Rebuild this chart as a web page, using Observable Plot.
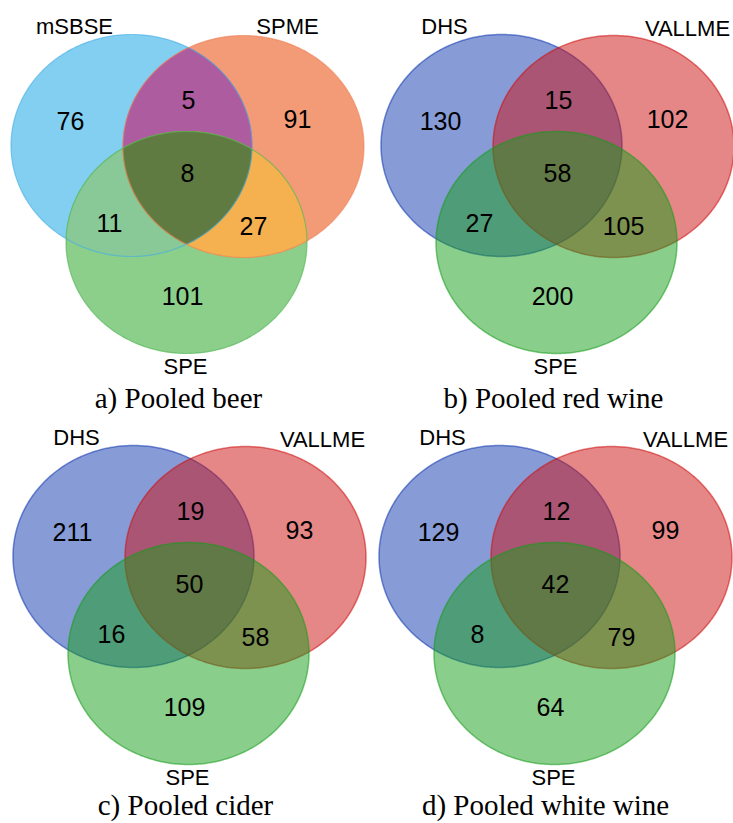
<!DOCTYPE html>
<html>
<head>
<meta charset="utf-8">
<script src="https://cdn.jsdelivr.net/npm/d3@7"></script>
<script src="https://cdn.jsdelivr.net/npm/@observablehq/plot@0.6"></script>
<style>
  html, body { margin: 0; padding: 0; background: #fff; }
  #chart { width: 733px; height: 823px; }
</style>
</head>
<body>
<div id="chart"></div>
<script>
// ---- data ----
const captions = ["a) Pooled beer", "b) Pooled red wine", "c) Pooled cider", "d) Pooled white wine"];
const setNamesA = ["mSBSE", "SPME", "SPE"];
const setNamesB = ["DHS", "VALLME", "SPE"];
const setNamesC = ["DHS", "VALLME", "SPE"];
const setNamesD = ["DHS", "VALLME", "SPE"];
// region order: only1, 1∩2, only2, 1∩2∩3, 1∩3, 2∩3, only3
const regions = ["1", "12", "2", "123", "13", "23", "3"];
const countsA = [76, 5, 91, 8, 11, 27, 101];
const countsB = [130, 15, 102, 58, 27, 105, 200];
const countsC = [211, 19, 93, 50, 16, 58, 109];
const countsD = [129, 12, 99, 42, 8, 79, 64];

const panels = [
  {caption: captions[0], names: setNamesA, counts: countsA},
  {caption: captions[1], names: setNamesB, counts: countsB},
  {caption: captions[2], names: setNamesC, counts: countsC},
  {caption: captions[3], names: setNamesD, counts: countsD}
];

// ---- layout (Venn template, shared by the four panels) ----
const W = 733, H = 823;
const offsets = [[0, 0], [370, 0], [2, 411], [368, 411]];
const centers = [[131, 145], [243, 146], [186, 242]];
const RX = 120.5, RY = 111;
const regionPos = {"1": [70, 121], "12": [188, 100], "2": [297, 119], "123": [187, 173], "13": [109, 223], "23": [253, 226], "3": [182, 296]};
const namePos = [[[74, 26], [287, 26], [185, 366]], [[74, 26], [317, 28], [185, 366]], [[74, 26], [320, 28], [185, 366]], [[74, 26], [317, 28], [185, 366]]];
const captionPos = [[178, 398], [183, 398], [183, 394], [177, 394]];

// styles
const solidSetColors = ["#82CFF2", "#F39B77", "#8BCF8B"];
const solidStroke = ["#45AEE3", "#EC8155", "#4DB451"];
const solidLens = {"12": "#AD5C9F", "13": "#88C997", "23": "#F5B150", "123": "#5F7B42"};
const alphaSetColors = ["#0F37AF", "#CD0F0F", "#159D19"];

// ---- geometry helpers ----
const ellipse = (c, n = 360) => d3.range(n).map(i => {
  const t = 2 * Math.PI * i / n;
  return [c[0] + RX * Math.cos(t), c[1] + RY * Math.sin(t)];
});
const inside = (p, c) => ((p[0] - c[0]) / RX) ** 2 + ((p[1] - c[1]) / RY) ** 2 <= 1 + 1e-9;
const lens = (cs) => {
  const pts = [];
  cs.forEach((c, i) => {
    ellipse(c, 720).forEach(p => {
      if (cs.every((o, j) => j === i || inside(p, o))) pts.push(p);
    });
  });
  return d3.polygonHull(pts);
};

const marks = [];
panels.forEach((panel, pi) => {
  const [ox, oy] = offsets[pi];
  const cs = centers.map(([x, y]) => [x + ox, y + oy]);
  const xy = {x: d => d[0], y: d => d[1], curve: "linear-closed"};
  if (pi === 0) {
    cs.forEach((c, k) => marks.push(Plot.line(ellipse(c), {...xy, fill: solidSetColors[k], stroke: "none"})));
    const lensDefs = {"12": [0, 1], "13": [0, 2], "23": [1, 2], "123": [0, 1, 2]};
    ["12", "13", "23", "123"].forEach(key => {
      const poly = lens(lensDefs[key].map(i => cs[i]));
      marks.push(Plot.line(poly, {...xy, fill: solidLens[key], stroke: solidLens[key], strokeWidth: 0.6}));
    });
    cs.forEach((c, k) => marks.push(Plot.line(ellipse(c), {...xy, fill: "none", stroke: solidStroke[k], strokeWidth: 1.2, strokeOpacity: 0.6})));
  } else {
    cs.forEach((c, k) => marks.push(Plot.line(ellipse(c), {...xy, fill: alphaSetColors[k], fillOpacity: 0.5, stroke: alphaSetColors[k], strokeOpacity: 0.55, strokeWidth: 1.5})));
  }
  // counts
  const countRows = regions.map((r, i) => ({x: regionPos[r][0] + ox, y: regionPos[r][1] + oy, text: String(panel.counts[i])}));
  marks.push(Plot.text(countRows, {x: "x", y: "y", text: "text", fontSize: 25, fontFamily: "Liberation Sans, Arial, sans-serif", fill: "#000"}));
  // set names
  const nameRows = panel.names.map((n, i) => ({x: namePos[pi][i][0] + ox, y: namePos[pi][i][1] + oy, text: n}));
  marks.push(Plot.text(nameRows, {x: "x", y: "y", text: "text", fontSize: 22, fontFamily: "Liberation Sans, Arial, sans-serif", fill: "#000"}));
  // caption
  marks.push(Plot.text([{x: captionPos[pi][0] + ox, y: captionPos[pi][1] + oy, text: panel.caption}], {x: "x", y: "y", text: "text", fontSize: 29, fontFamily: "Liberation Serif, Times New Roman, serif", fill: "#000"}));
});

const chart = Plot.plot({
  width: W,
  height: H,
  margin: 0,
  x: {domain: [0, W], range: [0, W], axis: null},
  y: {domain: [0, H], range: [0, H], axis: null},
  style: {background: "#fff"},
  marks
});
document.getElementById("chart").append(chart);
</script>
</body>
</html>
